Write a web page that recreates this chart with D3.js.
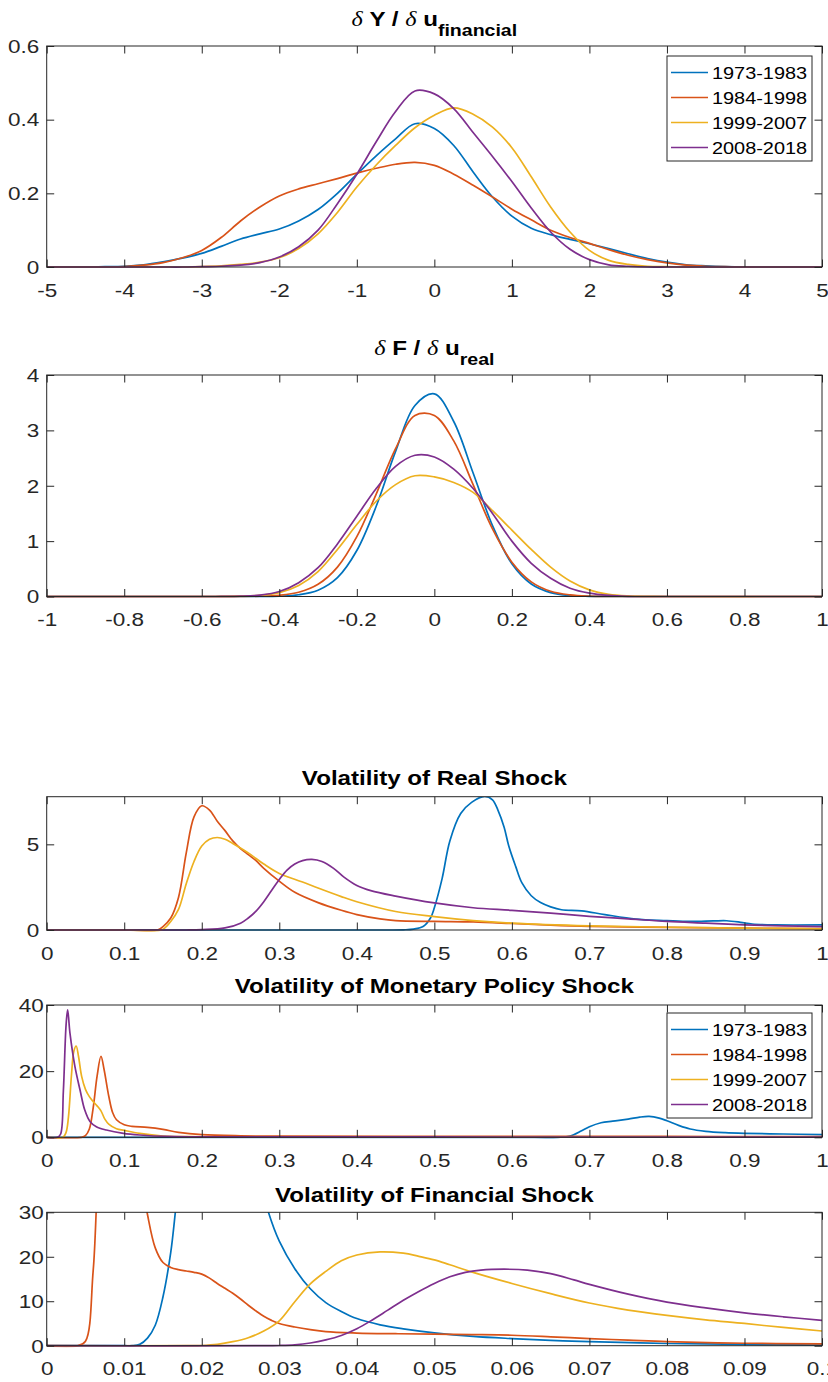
<!DOCTYPE html>
<html><head><meta charset="utf-8">
<script src="https://cdn.jsdelivr.net/npm/d3@7"></script>
<style>body{margin:0;background:#fff}svg{display:block}</style>
</head><body><svg id="c" width="828" height="1382"></svg>
<script>
// ---------- DATA ----------
const seriesNames = ["1973-1983","1984-1998","1999-2007","2008-2018"];
const colors = ["#0072BD","#D95319","#EDB120","#7E2F8E"];

// Panel 1: dY / du_financial
const p1X = [-5,-4.75,-4.5,-4.25,-4,-3.75,-3.5,-3.25,-3,-2.75,-2.5,-2.25,-2,-1.75,-1.5,-1.25,-1,-0.75,-0.5,-0.25,0,0.25,0.5,0.75,1,1.25,1.5,1.75,2,2.25,2.5,2.75,3,3.25,3.5,3.75,4,4.25,4.5,4.75,5];
const p1Blue   = [0,0,0,0.001,0.002,0.006,0.014,0.024,0.037,0.056,0.076,0.09,0.103,0.125,0.156,0.2,0.252,0.302,0.348,0.389,0.376,0.33,0.258,0.19,0.138,0.105,0.088,0.075,0.063,0.05,0.036,0.023,0.013,0.006,0.003,0.001,0,0,0,0,0];
const p1Orange = [0,0,0,0,0.001,0.005,0.012,0.025,0.045,0.08,0.125,0.163,0.193,0.212,0.226,0.24,0.255,0.268,0.279,0.284,0.276,0.252,0.222,0.19,0.157,0.128,0.1,0.08,0.064,0.047,0.032,0.02,0.011,0.005,0.002,0.001,0,0,0,0,0];
const p1Yellow = [0,0,0,0,0,0,0,0,0.001,0.003,0.007,0.013,0.025,0.05,0.09,0.148,0.217,0.277,0.33,0.378,0.412,0.432,0.415,0.38,0.324,0.245,0.163,0.095,0.045,0.018,0.007,0.002,0.001,0,0,0,0,0,0,0,0];
const p1Purple = [0,0,0,0,0,0,0,0,0.001,0.002,0.005,0.012,0.027,0.055,0.1,0.172,0.252,0.34,0.422,0.478,0.47,0.43,0.365,0.3,0.232,0.16,0.095,0.048,0.02,0.006,0.002,0,0,0,0,0,0,0,0,0,0];
const p1XTicks = [-5,-4,-3,-2,-1,0,1,2,3,4,5];
const p1XTickLabels = ["-5","-4","-3","-2","-1","0","1","2","3","4","5"];
const p1YTicks = [0,0.2,0.4,0.6];
const p1YTickLabels = ["0","0.2","0.4","0.6"];

// Panel 2: dF / du_real
const p2X = [-1,-0.6,-0.55,-0.5,-0.45,-0.4,-0.35,-0.3,-0.25,-0.2,-0.15,-0.1,-0.05,0,0.05,0.1,0.15,0.2,0.25,0.3,0.35,0.4,0.45,0.5,0.55,0.6,1];
const p2Blue   = [0,0,0,0,0.001,0.007,0.031,0.113,0.34,0.83,1.63,2.62,3.45,3.66,3.16,2.23,1.28,0.59,0.225,0.07,0.017,0.004,0.001,0,0,0,0];
const p2Orange = [0,0,0,0.001,0.006,0.022,0.076,0.22,0.53,1.08,1.85,2.67,3.27,3.27,2.81,2.02,1.22,0.62,0.265,0.095,0.029,0.007,0.002,0,0,0,0];
const p2Yellow = [0,0,0.001,0.005,0.02,0.07,0.2,0.45,0.85,1.3,1.72,2.02,2.18,2.16,2.06,1.88,1.55,1.2,0.85,0.53,0.28,0.12,0.04,0.01,0.002,0,0];
const p2Purple = [0,0,0.001,0.005,0.025,0.09,0.25,0.52,0.95,1.45,1.95,2.35,2.55,2.52,2.3,1.95,1.5,1.0,0.6,0.33,0.15,0.06,0.02,0.004,0,0,0];
const p2XTicks = [-1,-0.8,-0.6,-0.4,-0.2,0,0.2,0.4,0.6,0.8,1];
const p2XTickLabels = ["-1","-0.8","-0.6","-0.4","-0.2","0","0.2","0.4","0.6","0.8","1"];
const p2YTicks = [0,1,2,3,4];
const p2YTickLabels = ["0","1","2","3","4"];

// Panel 3: Volatility of Real Shock  [x, density]
const p3Blue = [[0,0],[0.1,0],[0.2,0],[0.3,0],[0.4,0],[0.43,0],[0.46,0.01],[0.473,0.05],[0.486,0.22],[0.495,0.7],[0.5,1.3],[0.51,3.0],[0.52,5.2],[0.534,6.8],[0.548,7.45],[0.565,7.8],[0.575,7.6],[0.582,7.0],[0.59,6.0],[0.596,4.9],[0.605,3.7],[0.613,2.75],[0.625,2.0],[0.637,1.6],[0.65,1.35],[0.664,1.18],[0.69,1.12],[0.72,0.9],[0.76,0.64],[0.8,0.55],[0.83,0.5],[0.86,0.53],[0.877,0.54],[0.895,0.45],[0.91,0.35],[0.94,0.3],[1,0.3]];
const p3Orange = [[0,0],[0.1,0],[0.143,0],[0.15,0.2],[0.16,0.7],[0.17,1.9],[0.18,4.5],[0.19,6.6],[0.2,7.25],[0.21,7.0],[0.22,6.35],[0.23,5.8],[0.24,5.2],[0.25,4.75],[0.26,4.4],[0.27,4.05],[0.28,3.6],[0.3,2.85],[0.32,2.2],[0.35,1.6],[0.38,1.15],[0.4,0.9],[0.43,0.65],[0.45,0.55],[0.5,0.5],[0.55,0.47],[0.6,0.38],[0.65,0.28],[0.7,0.21],[0.8,0.15],[0.9,0.11],[1,0.08]];
const p3Yellow = [[0,0],[0.1,0],[0.148,0],[0.16,0.5],[0.17,1.2],[0.18,2.7],[0.19,4.0],[0.2,4.9],[0.21,5.3],[0.22,5.4],[0.23,5.3],[0.24,5.05],[0.26,4.5],[0.28,3.85],[0.3,3.3],[0.33,2.8],[0.35,2.45],[0.38,1.95],[0.4,1.65],[0.45,1.08],[0.5,0.78],[0.55,0.55],[0.6,0.4],[0.7,0.24],[0.8,0.16],[0.9,0.11],[1,0.07]];
const p3Purple = [[0,0],[0.1,0],[0.18,0],[0.2,0.02],[0.23,0.12],[0.25,0.4],[0.26,0.7],[0.27,1.1],[0.28,1.65],[0.29,2.3],[0.3,2.95],[0.31,3.5],[0.32,3.85],[0.33,4.05],[0.342,4.12],[0.355,4.0],[0.37,3.6],[0.383,3.1],[0.4,2.6],[0.418,2.3],[0.45,1.98],[0.5,1.58],[0.55,1.3],[0.6,1.15],[0.65,0.98],[0.7,0.8],[0.75,0.65],[0.8,0.5],[0.85,0.4],[0.9,0.3],[0.95,0.24],[1,0.2]];
const p3XTicks = [0,0.1,0.2,0.3,0.4,0.5,0.6,0.7,0.8,0.9,1];
const p3XTickLabels = ["0","0.1","0.2","0.3","0.4","0.5","0.6","0.7","0.8","0.9","1"];
const p3YTicks = [0,5];
const p3YTickLabels = ["0","5"];

// Panel 4: Volatility of Monetary Policy Shock
const p4Blue = [[0,0],[0.6,0],[0.66,0],[0.675,0.4],[0.69,2.0],[0.7,3.2],[0.715,4.4],[0.73,4.9],[0.75,5.5],[0.765,6.1],[0.777,6.3],[0.79,5.8],[0.8,5.0],[0.815,3.6],[0.83,2.5],[0.85,1.8],[0.875,1.4],[0.9,1.2],[0.95,1.0],[1,0.8]];
const p4Orange = [[0,0],[0.045,0],[0.05,0.5],[0.055,2.5],[0.06,9],[0.065,18.5],[0.07,24.5],[0.074,20.5],[0.08,12.5],[0.085,7.5],[0.09,5.3],[0.1,3.8],[0.11,3.3],[0.13,3.0],[0.15,2.4],[0.17,1.5],[0.2,0.8],[0.25,0.45],[0.3,0.35],[0.5,0.3],[0.8,0.25],[1,0.2]];
const p4Yellow = [[0,0],[0.021,0],[0.025,1.5],[0.028,6],[0.032,19],[0.035,26],[0.038,27.6],[0.041,24.5],[0.045,18.5],[0.05,14.5],[0.055,12.3],[0.06,10.8],[0.065,9.5],[0.07,8],[0.075,5.5],[0.08,4.0],[0.09,2.6],[0.1,2.1],[0.12,1.2],[0.15,0.4],[0.2,0.15],[0.5,0.05],[1,0.02]];
const p4Purple = [[0,0],[0.014,0],[0.018,1],[0.0215,14],[0.025,34],[0.027,38.5],[0.03,31.5],[0.0365,21.3],[0.043,14.3],[0.049,8.3],[0.056,4.7],[0.064,3.2],[0.077,2.2],[0.099,1.2],[0.12,0.7],[0.155,0.25],[0.2,0.15],[0.5,0.1],[1,0.08]];
const p4XTicks = p3XTicks;
const p4XTickLabels = p3XTickLabels;
const p4YTicks = [0,20,40];
const p4YTickLabels = ["0","20","40"];

// Panel 5: Volatility of Financial Shock
const p5Blue = [[0,0],[0.01,0],[0.011,0],[0.012,0.3],[0.013,1.7],[0.014,4.6],[0.015,11],[0.016,21],[0.017,36],[0.02,70],[0.025,60],[0.028,34],[0.0286,30],[0.03,23.5],[0.032,17.3],[0.034,12.8],[0.036,9.7],[0.038,7.7],[0.04,6.1],[0.043,4.7],[0.046,3.8],[0.05,2.9],[0.055,2.1],[0.06,1.6],[0.065,1.2],[0.07,0.9],[0.08,0.5],[0.09,0.3],[0.1,0.15]];
const p5Orange = [[0,0],[0.004,0],[0.005,1.0],[0.006,17],[0.007,45],[0.009,60],[0.011,50],[0.012,40],[0.013,29.5],[0.014,22],[0.015,18.7],[0.016,17.6],[0.017,17.1],[0.018,16.8],[0.019,16.5],[0.02,16.1],[0.021,15.2],[0.022,14],[0.023,12.9],[0.024,11.8],[0.025,10.5],[0.026,9.1],[0.027,7.8],[0.028,6.6],[0.029,5.7],[0.03,5.0],[0.032,4.2],[0.034,3.6],[0.036,3.15],[0.04,2.85],[0.045,2.7],[0.05,2.6],[0.055,2.5],[0.06,2.35],[0.065,2.0],[0.07,1.6],[0.075,1.25],[0.08,0.9],[0.09,0.55],[0.1,0.4]];
const p5Yellow = [[0,0],[0.018,0],[0.02,0.05],[0.022,0.3],[0.024,0.9],[0.026,1.8],[0.028,3.3],[0.03,5.6],[0.032,9.9],[0.034,13.9],[0.036,16.7],[0.038,19.1],[0.04,20.4],[0.043,21.1],[0.046,20.8],[0.048,20.1],[0.05,19.3],[0.052,18.2],[0.055,16.5],[0.06,14.0],[0.065,11.7],[0.07,9.6],[0.075,8.0],[0.08,6.8],[0.085,5.8],[0.09,5.0],[0.095,4.1],[0.1,3.3]];
const p5Purple = [[0,0],[0.028,0],[0.03,0.05],[0.032,0.2],[0.034,0.6],[0.036,1.3],[0.038,2.3],[0.04,3.8],[0.042,5.8],[0.044,8.0],[0.046,10.2],[0.048,12.2],[0.05,14.0],[0.052,15.5],[0.054,16.5],[0.056,17.0],[0.059,17.2],[0.062,17.0],[0.065,16.2],[0.068,14.8],[0.07,13.8],[0.075,11.6],[0.08,9.8],[0.085,8.5],[0.09,7.4],[0.095,6.5],[0.1,5.7]];
const p5XTicks = [0,0.01,0.02,0.03,0.04,0.05,0.06,0.07,0.08,0.09,0.1];
const p5XTickLabels = ["0","0.01","0.02","0.03","0.04","0.05","0.06","0.07","0.08","0.09","0.1"];
const p5YTicks = [0,10,20,30];
const p5YTickLabels = ["0","10","20","30"];

// ---------- DRAW ----------
const svg = d3.select("#c");
svg.append("rect").attr("width",828).attr("height",1382).attr("fill","#fff");
const FONT = "'Liberation Sans', Arial, Helvetica, sans-serif";
const AX = "#262626";
const L = 46.7, R = 822, TL = 7.5;
const TICK_FS = 18, TICK_SX = 1.25;

function zipXY(xs, ys){ return xs.map((x,i)=>[x, ys[i]]); }

function panel(cfg, idx){
  const g = svg.append("g");
  const x = d3.scaleLinear().domain(cfg.xDomain).range([L, R]);
  const y = d3.scaleLinear().domain(cfg.yDomain).range([cfg.bottom, cfg.top]);
  const cid = "clip"+idx;
  svg.append("defs").append("clipPath").attr("id",cid).append("rect")
    .attr("x",L).attr("y",cfg.top).attr("width",R-L).attr("height",cfg.bottom-cfg.top+1.5);

  // lines
  const line = d3.line().x(d=>x(d[0])).y(d=>y(d[1])).curve(d3.curveCatmullRom.alpha(0.5));
  const lg = g.append("g").attr("clip-path","url(#"+cid+")");
  cfg.series.forEach((s,i)=>{
    lg.append("path").attr("d", line(s)).attr("fill","none")
      .attr("stroke", colors[i]).attr("stroke-width",1.7).attr("stroke-linejoin","round");
  });

  // axes (ticks inward on all four sides)
  const bx = g.append("g").attr("transform",`translate(0,${cfg.bottom})`)
    .call(d3.axisBottom(x).tickValues(cfg.xTicks).tickSize(-TL).tickSizeOuter(0)
      .tickFormat((d,i)=>cfg.xLabels[i]).tickPadding(0));
  bx.selectAll("text").attr("y",null).attr("dy",null).attr("transform",`translate(0,29.5) scale(${TICK_SX},1)`);
  const tx = g.append("g").attr("transform",`translate(0,${cfg.top})`)
    .call(d3.axisTop(x).tickValues(cfg.xTicks).tickSize(-TL).tickSizeOuter(0).tickFormat(""));
  const ly = g.append("g").attr("transform",`translate(${L},0)`)
    .call(d3.axisLeft(y).tickValues(cfg.yTicks).tickSize(-TL).tickSizeOuter(0)
      .tickFormat((d,i)=>cfg.yLabels[i]).tickPadding(0));
  ly.selectAll("text").attr("x",null).attr("dy","0.35em").attr("transform",`translate(${-cfg.yGap},0) scale(${TICK_SX},1)`);
  const ry = g.append("g").attr("transform",`translate(${R},0)`)
    .call(d3.axisRight(y).tickValues(cfg.yTicks).tickSize(-TL).tickSizeOuter(0).tickFormat(""));
  [bx,tx,ly,ry].forEach(a=>{
    a.select(".domain").remove();
    a.selectAll("line").attr("stroke",AX).attr("stroke-width",1);
    a.selectAll("text").attr("fill",AX).style("font-family",FONT).style("font-size",TICK_FS+"px");
  });
  g.append("rect").attr("x",L).attr("y",cfg.top).attr("width",R-L).attr("height",cfg.bottom-cfg.top)
    .attr("fill","none").attr("stroke",AX).attr("stroke-width",1);

  // title
  const tg = g.append("g").attr("transform",`translate(${(L+R)/2},${cfg.titleY}) scale(1.15,1)`);
  const t = tg.append("text").attr("text-anchor","middle").style("font-family",FONT)
    .style("font-size","21px").style("font-weight","bold").attr("fill","#000");
  cfg.title.forEach(p=>{
    const sp = t.append("tspan").text(p.t);
    if(p.delta){ sp.style("font-weight","normal").style("font-style","italic").style("font-family","'Liberation Serif', serif"); }
    if(p.sub){ sp.style("font-size","17px").attr("dy", "10"); }
  });

  // legend
  if(cfg.legend){
    const lx = 667, lyy = cfg.legend, lw = 145, lh = 105;
    const leg = g.append("g");
    leg.append("rect").attr("x",lx).attr("y",lyy).attr("width",lw).attr("height",lh)
      .attr("fill","#fff").attr("stroke",AX).attr("stroke-width",1);
    seriesNames.forEach((n,i)=>{
      const cy = lyy + 16.5 + i*25;
      leg.append("line").attr("x1",lx+4).attr("x2",lx+41).attr("y1",cy).attr("y2",cy)
        .attr("stroke",colors[i]).attr("stroke-width",1.7);
      leg.append("text").attr("transform",`translate(${lx+45},${cy}) scale(1.17,1)`)
        .attr("dy","0.36em").style("font-family",FONT).style("font-size","17px").attr("fill","#000").text(n);
    });
  }
}

const panels = [
  {top:46, bottom:267, xDomain:[-5,5], yDomain:[0,0.6], xTicks:p1XTicks, xLabels:p1XTickLabels, yTicks:p1YTicks, yLabels:p1YTickLabels, yGap:7.5,
   series:[zipXY(p1X,p1Blue),zipXY(p1X,p1Orange),zipXY(p1X,p1Yellow),zipXY(p1X,p1Purple)],
   titleY:25.5, title:[{t:"δ",delta:true},{t:" Y / "},{t:"δ",delta:true},{t:" u"},{t:"financial",sub:true}], legend:56},
  {top:375, bottom:596.5, xDomain:[-1,1], yDomain:[0,4], xTicks:p2XTicks, xLabels:p2XTickLabels, yTicks:p2YTicks, yLabels:p2YTickLabels, yGap:7.5,
   series:[zipXY(p2X,p2Blue),zipXY(p2X,p2Orange),zipXY(p2X,p2Yellow),zipXY(p2X,p2Purple)],
   titleY:355, title:[{t:"δ",delta:true},{t:" F / "},{t:"δ",delta:true},{t:" u"},{t:"real",sub:true}]},
  {top:796.7, bottom:930, xDomain:[0,1], yDomain:[0,7.78], xTicks:p3XTicks, xLabels:p3XTickLabels, yTicks:p3YTicks, yLabels:p3YTickLabels, yGap:7.5,
   series:[p3Blue,p3Orange,p3Yellow,p3Purple], titleY:785, title:[{t:"Volatility of Real Shock"}]},
  {top:1005, bottom:1137.3, xDomain:[0,1], yDomain:[0,40], xTicks:p4XTicks, xLabels:p4XTickLabels, yTicks:p4YTicks, yLabels:p4YTickLabels, yGap:3,
   series:[p4Blue,p4Orange,p4Yellow,p4Purple], titleY:993, title:[{t:"Volatility of Monetary Policy Shock"}], legend:1013},
  {top:1212.3, bottom:1345.7, xDomain:[0,0.1], yDomain:[0,30], xTicks:p5XTicks, xLabels:p5XTickLabels, yTicks:p5YTicks, yLabels:p5YTickLabels, yGap:3,
   series:[p5Blue,p5Orange,p5Yellow,p5Purple], titleY:1202, title:[{t:"Volatility of Financial Shock"}]}
];
panels.forEach((p,i)=>panel(p,i));
</script></body></html>
